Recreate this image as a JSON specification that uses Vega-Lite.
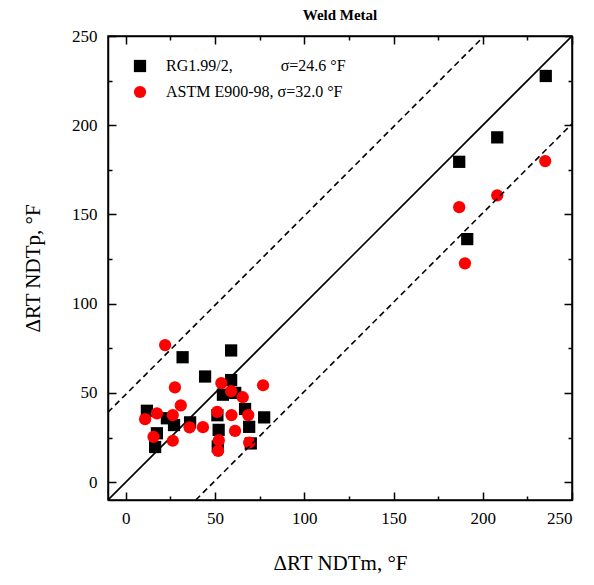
{
  "$schema": "https://vega.github.io/schema/vega-lite/v6.json",
  "width": 464,
  "height": 464,
  "autosize": {"type": "none"},
  "padding": {"left": 108, "top": 36, "right": 22, "bottom": 85},
  "background": "white",
  "title": {"text": "Weld Metal", "font": "Liberation Serif", "fontSize": 15, "fontWeight": "bold", "color": "black", "offset": 4},
  "datasets": {
    "points": [
      {"series": "RG1.99/2", "x": 11.8, "y": 40},
      {"series": "RG1.99/2", "x": 17.4, "y": 27.4},
      {"series": "RG1.99/2", "x": 16.4, "y": 19.7},
      {"series": "RG1.99/2", "x": 23, "y": 35.8},
      {"series": "RG1.99/2", "x": 27, "y": 32},
      {"series": "RG1.99/2", "x": 31.8, "y": 70},
      {"series": "RG1.99/2", "x": 36, "y": 33.5},
      {"series": "RG1.99/2", "x": 44.4, "y": 59.2},
      {"series": "RG1.99/2", "x": 51.3, "y": 37.5},
      {"series": "RG1.99/2", "x": 52, "y": 29.3},
      {"series": "RG1.99/2", "x": 51.5, "y": 20},
      {"series": "RG1.99/2", "x": 54.4, "y": 49},
      {"series": "RG1.99/2", "x": 59, "y": 73.8},
      {"series": "RG1.99/2", "x": 59, "y": 57.2},
      {"series": "RG1.99/2", "x": 61.3, "y": 50},
      {"series": "RG1.99/2", "x": 66.8, "y": 41},
      {"series": "RG1.99/2", "x": 69.1, "y": 31},
      {"series": "RG1.99/2", "x": 70, "y": 21.7},
      {"series": "RG1.99/2", "x": 77.5, "y": 36.3},
      {"series": "RG1.99/2", "x": 186.8, "y": 179.5},
      {"series": "RG1.99/2", "x": 191.3, "y": 136.2},
      {"series": "RG1.99/2", "x": 208.1, "y": 193.2},
      {"series": "RG1.99/2", "x": 235.3, "y": 227.6},
      {"series": "ASTM E900-98", "x": 10.8, "y": 35.3},
      {"series": "ASTM E900-98", "x": 15.5, "y": 25.4},
      {"series": "ASTM E900-98", "x": 17.4, "y": 38.5},
      {"series": "ASTM E900-98", "x": 22, "y": 76.8},
      {"series": "ASTM E900-98", "x": 26.3, "y": 37.6},
      {"series": "ASTM E900-98", "x": 26.3, "y": 23.2},
      {"series": "ASTM E900-98", "x": 27.5, "y": 53.1},
      {"series": "ASTM E900-98", "x": 30.8, "y": 43},
      {"series": "ASTM E900-98", "x": 35.7, "y": 30.7},
      {"series": "ASTM E900-98", "x": 43.2, "y": 30.8},
      {"series": "ASTM E900-98", "x": 51.2, "y": 39.4},
      {"series": "ASTM E900-98", "x": 52.1, "y": 23.5},
      {"series": "ASTM E900-98", "x": 51.7, "y": 17.5},
      {"series": "ASTM E900-98", "x": 53.5, "y": 55.5},
      {"series": "ASTM E900-98", "x": 59, "y": 51},
      {"series": "ASTM E900-98", "x": 59.2, "y": 37.6},
      {"series": "ASTM E900-98", "x": 61.2, "y": 28.7},
      {"series": "ASTM E900-98", "x": 65.5, "y": 47.6},
      {"series": "ASTM E900-98", "x": 68.6, "y": 37.6},
      {"series": "ASTM E900-98", "x": 69.1, "y": 22.2},
      {"series": "ASTM E900-98", "x": 76.9, "y": 54.3},
      {"series": "ASTM E900-98", "x": 186.8, "y": 154.1},
      {"series": "ASTM E900-98", "x": 190, "y": 122.6},
      {"series": "ASTM E900-98", "x": 208.1, "y": 160.7},
      {"series": "ASTM E900-98", "x": 235, "y": 179.9}
    ],
    "fit": [
      {"line": "fit", "x": -10, "y": -10},
      {"line": "fit", "x": 250, "y": 250}
    ],
    "bounds": [
      {"line": "upper", "x": -10, "y": 39.2},
      {"line": "upper", "x": 200.8, "y": 250},
      {"line": "lower", "x": 39.2, "y": -10},
      {"line": "lower", "x": 250, "y": 200.8}
    ]
  },
  "layer": [
    {
      "data": {"name": "fit"},
      "mark": {"type": "line", "color": "black", "strokeWidth": 1.6, "clip": true},
      "encoding": {
        "x": {
          "field": "x", "type": "quantitative",
          "scale": {"domain": [-10, 250], "nice": false, "zero": false},
          "axis": {
            "orient": "bottom",
            "zindex": 1,
            "values": [0, 25, 50, 75, 100, 125, 150, 175, 200, 225, 250],
            "labelExpr": "datum.value % 50 === 0 ? datum.label : ''",
            "ticks": true,
            "tickSize": {"condition": {"test": "datum.value % 50 === 0", "value": -8}, "value": -4},
            "labelPadding": 18,
            "title": "ΔRT NDTm, °F",
            "titlePadding": 26
          }
        },
        "y": {
          "field": "y", "type": "quantitative",
          "scale": {"domain": [-10, 250], "nice": false, "zero": false},
          "axis": {
            "orient": "left",
            "zindex": 1,
            "values": [0, 25, 50, 75, 100, 125, 150, 175, 200, 225, 250],
            "labelExpr": "datum.value % 50 === 0 ? datum.label : ''",
            "ticks": true,
            "tickSize": {"condition": {"test": "datum.value % 50 === 0", "value": -8}, "value": -4},
            "labelPadding": 19,
            "title": "ΔRT NDTp, °F",
            "titlePadding": 28
          }
        }
      }
    },
    {
      "data": {"name": "points"},
      "mark": {"type": "point", "filled": true, "opacity": 1, "strokeWidth": 0, "size": 150},
      "encoding": {
        "x": {
          "field": "x", "type": "quantitative",
          "axis": {
            "orient": "top",
            "zindex": 1,
            "values": [0, 25, 50, 75, 100, 125, 150, 175, 200, 225, 250],
            "labels": false,
            "ticks": true,
            "tickSize": {"condition": {"test": "datum.value % 50 === 0", "value": -8}, "value": -4},
            "title": null
          }
        },
        "y": {
          "field": "y", "type": "quantitative",
          "axis": {
            "orient": "right",
            "zindex": 1,
            "values": [0, 25, 50, 75, 100, 125, 150, 175, 200, 225, 250],
            "labels": false,
            "ticks": true,
            "tickSize": {"condition": {"test": "datum.value % 50 === 0", "value": -8}, "value": -4},
            "title": null
          }
        },
        "shape": {
          "field": "series", "type": "nominal",
          "scale": {"domain": ["RG1.99/2", "ASTM E900-98"], "range": ["square", "circle"]},
          "legend": {
            "title": null,
            "orient": "none",
            "legendX": 24,
            "legendY": 22,
            "symbolSize": 150,
            "labelFont": "Liberation Serif",
            "labelFontSize": 16,
            "labelColor": "black",
            "labelLimit": 400,
            "labelOffset": 18,
            "rowPadding": 10,
            "padding": 0,
            "labelExpr": "datum.label === 'RG1.99/2' ? 'RG1.99/2,\u00a0\u00a0\u00a0\u00a0\u00a0\u00a0\u00a0\u00a0\u00a0\u00a0\u00a0 σ=24.6 °F' : 'ASTM E900-98, σ=32.0 °F'"
          }
        },
        "color": {
          "field": "series", "type": "nominal",
          "scale": {"domain": ["RG1.99/2", "ASTM E900-98"], "range": ["#000000", "#ff0000"]}
        }
      }
    },
    {
      "data": {"name": "bounds"},
      "mark": {"type": "line", "color": "black", "strokeWidth": 1.6, "strokeDash": [6, 4], "clip": true},
      "encoding": {
        "x": {"field": "x", "type": "quantitative", "axis": null},
        "y": {"field": "y", "type": "quantitative", "axis": null},
        "detail": {"field": "line", "type": "nominal"}
      }
    }
  ],
  "resolve": {"axis": {"x": "independent", "y": "independent"}},
  "config": {
    "view": {"stroke": "black", "strokeWidth": 1.5},
    "axis": {
      "grid": false,
      "domainColor": "black",
      "domainWidth": 1.5,
      "tickColor": "black",
      "tickWidth": 1.5,
      "labelFont": "Liberation Serif",
      "labelFontSize": 17,
      "labelColor": "black",
      "titleFont": "Liberation Serif",
      "titleFontSize": 21,
      "titleFontWeight": "normal",
      "titleColor": "black"
    }
  }
}
